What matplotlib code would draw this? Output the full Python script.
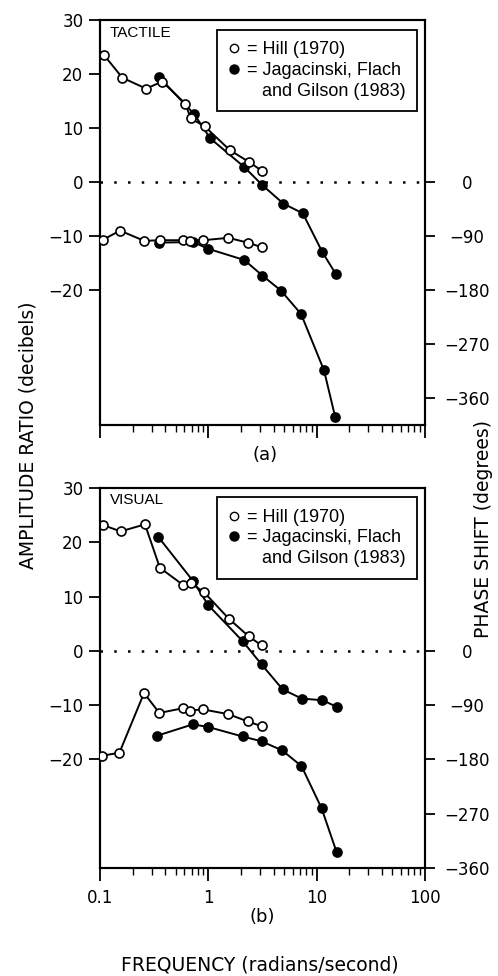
import matplotlib
matplotlib.use("Agg")
import matplotlib.pyplot as plt
from matplotlib.lines import Line2D
from matplotlib.ticker import FixedLocator, NullFormatter

# ----------------------------------------------------------------------
# Frequency response data: amplitude ratio (dB) and phase shift (deg)
# ----------------------------------------------------------------------
# (a) tactile display
tac_hill_f = [0.109, 0.161, 0.266, 0.376, 0.614, 0.687, 0.926, 1.58, 2.38, 3.16]
tac_hill_amp = [23.5, 19.3, 17.3, 18.6, 14.5, 11.8, 10.3, 5.9, 3.7, 2.0]
tac_hill_phase_f = [0.107, 0.153, 0.256, 0.360, 0.580, 0.672, 0.899, 1.53, 2.31, 3.16]
tac_hill_phase = [-96, -81, -98, -97, -97, -98, -97, -93, -101, -109]

tac_jag_f = [0.353, 0.738, 1.04, 2.14, 3.16, 4.93, 7.45, 11.3, 15.1]
tac_jag_amp = [19.4, 12.6, 8.1, 2.8, -0.6, -4.0, -5.8, -13.0, -17.1]
tac_jag_phase_f = [0.353, 0.726, 0.986, 2.15, 3.16, 4.69, 7.18, 11.7, 14.8]
tac_jag_phase = [-101, -100, -111, -130, -156, -181, -220, -314, -391]

# (b) visual display
vis_hill_f = [0.106, 0.155, 0.260, 0.357, 0.588, 0.687, 0.912, 1.55, 2.35, 3.10]
vis_hill_amp = [23.2, 22.0, 23.3, 15.3, 12.1, 12.5, 10.8, 5.9, 2.7, 1.0]
vis_hill_phase_f = [0.104, 0.151, 0.255, 0.353, 0.588, 0.677, 0.886, 1.53, 2.31, 3.10]
vis_hill_phase = [-174, -169, -70, -103, -95, -99, -97, -105, -117, -125]

vis_jag_f = [0.345, 0.72, 1.0, 2.07, 3.10, 4.85, 7.29, 11.3, 15.3]
vis_jag_amp = [21.0, 12.9, 8.4, 1.8, -2.5, -7.1, -8.8, -9.1, -10.3]
vis_jag_phase_f = [0.333, 0.716, 0.986, 2.07, 3.10, 4.80, 7.24, 11.1, 15.3]
vis_jag_phase = [-141, -122, -126, -142, -150, -165, -191, -261, -334]

amp_ticks = [30, 20, 10, 0, -10, -20]
phase_ticks = [0, -90, -180, -270, -360]
freq_ticks = [0.1, 1, 10, 100]
freq_labels = ["0.1", "1", "10", "100"]
DEG_PER_DB = 9.0   # 10 dB on the left axis lines up with 90 deg on the right

plt.rcParams["font.family"] = "DejaVu Sans"
LEGEND_FONT = "Liberation Sans"

fig = plt.figure(figsize=(4.98, 9.76), dpi=100)


def draw_panel(ax, amp_series, phase_series, ylim, name, show_xlabels):
    ax.set_xscale("log")
    ax.set_xlim(0.1, 100)
    ax.set_ylim(*ylim)
    ax.axhline(0, color="black", linestyle=(0, (1, 4.5)), linewidth=1.8)

    ax2 = ax.twinx()
    ax2.set_ylim(ylim[0] * DEG_PER_DB, ylim[1] * DEG_PER_DB)

    style = dict(color="black", linewidth=1.4, markersize=6.5,
                 markeredgewidth=1.2, markeredgecolor="black")
    # filled symbols first so the open circles sit on top
    for (f, v), filled in amp_series:
        ax.plot(f, v, marker="o", markerfacecolor="black" if filled else "white",
                zorder=4 if filled else 5, **style)
    for (f, v), filled in phase_series:
        ax2.plot(f, v, marker="o", markerfacecolor="black" if filled else "white",
                 zorder=4 if filled else 5, **style)

    for a in (ax, ax2):
        for sp in a.spines.values():
            sp.set_linewidth(1.5)

    ax.set_yticks(amp_ticks)
    ax.yaxis.set_ticks_position("left")
    ax.tick_params(axis="y", direction="out", length=8, width=1.3,
                   labelsize=12, pad=4)
    ax2.set_yticks(phase_ticks)
    ax2.tick_params(axis="y", direction="out", length=7, width=1.3,
                    labelsize=12, pad=23)
    for lbl in ax2.get_yticklabels():
        lbl.set_horizontalalignment("center")

    ax.xaxis.set_major_locator(FixedLocator(freq_ticks))
    ax.tick_params(axis="x", which="major", direction="out", length=9,
                   width=1.3, labelsize=12, pad=6)
    ax.tick_params(axis="x", which="minor", direction="out", length=5,
                   width=1.0)
    ax.xaxis.set_minor_formatter(NullFormatter())
    if show_xlabels:
        ax.set_xticklabels(freq_labels)
    else:
        ax.set_xticklabels([])

    ax.text(0.03, 0.986, name, transform=ax.transAxes, ha="left", va="top",
            fontsize=11, family=LEGEND_FONT)

    handles = [
        Line2D([], [], linestyle="none", marker="o", markersize=6,
               markerfacecolor="white", markeredgecolor="black",
               markeredgewidth=1.0),
        Line2D([], [], linestyle="none", marker="o", markersize=6.5,
               markerfacecolor="black", markeredgecolor="black"),
        Line2D([], [], linestyle="none"),
    ]
    labels = ["= Hill (1970)", "= Jagacinski, Flach", "   and Gilson (1983)"]
    leg = ax2.legend(handles, labels, loc="upper right",
                     bbox_to_anchor=(0.975, 0.976), borderaxespad=0,
                     frameon=True, fancybox=False, framealpha=1,
                     edgecolor="black", handlelength=0.6, handletextpad=0.4,
                     labelspacing=0.2, borderpad=0.65,
                     prop=dict(family=LEGEND_FONT, size=13))
    leg.get_frame().set_linewidth(1.3)
    return ax2


ax_a = fig.add_axes([0.2008, 0.5645, 0.6526, 0.415])
draw_panel(ax_a,
           [((tac_jag_f, tac_jag_amp), True), ((tac_hill_f, tac_hill_amp), False)],
           [((tac_jag_phase_f, tac_jag_phase), True),
            ((tac_hill_phase_f, tac_hill_phase), False)],
           (-45, 30), "TACTILE", show_xlabels=False)

ax_b = fig.add_axes([0.2008, 0.1107, 0.6526, 0.3893])
draw_panel(ax_b,
           [((vis_jag_f, vis_jag_amp), True), ((vis_hill_f, vis_hill_amp), False)],
           [((vis_jag_phase_f, vis_jag_phase), True),
            ((vis_hill_phase_f, vis_hill_phase), False)],
           (-40, 30), "VISUAL", show_xlabels=True)

fig.text(0.532, 0.534, "(a)", ha="center", va="center", fontsize=13)
fig.text(0.526, 0.060, "(b)", ha="center", va="center", fontsize=13)
fig.text(0.056, 0.554, "AMPLITUDE RATIO (decibels)", rotation=90,
         ha="center", va="center", fontsize=13.5)
fig.text(0.970, 0.458, "PHASE SHIFT (degrees)", rotation=90,
         ha="center", va="center", fontsize=13.5)
fig.text(0.522, 0.0113, "FREQUENCY (radians/second)", ha="center",
         va="center", fontsize=13.5)

fig.savefig("out.png", dpi=100)
